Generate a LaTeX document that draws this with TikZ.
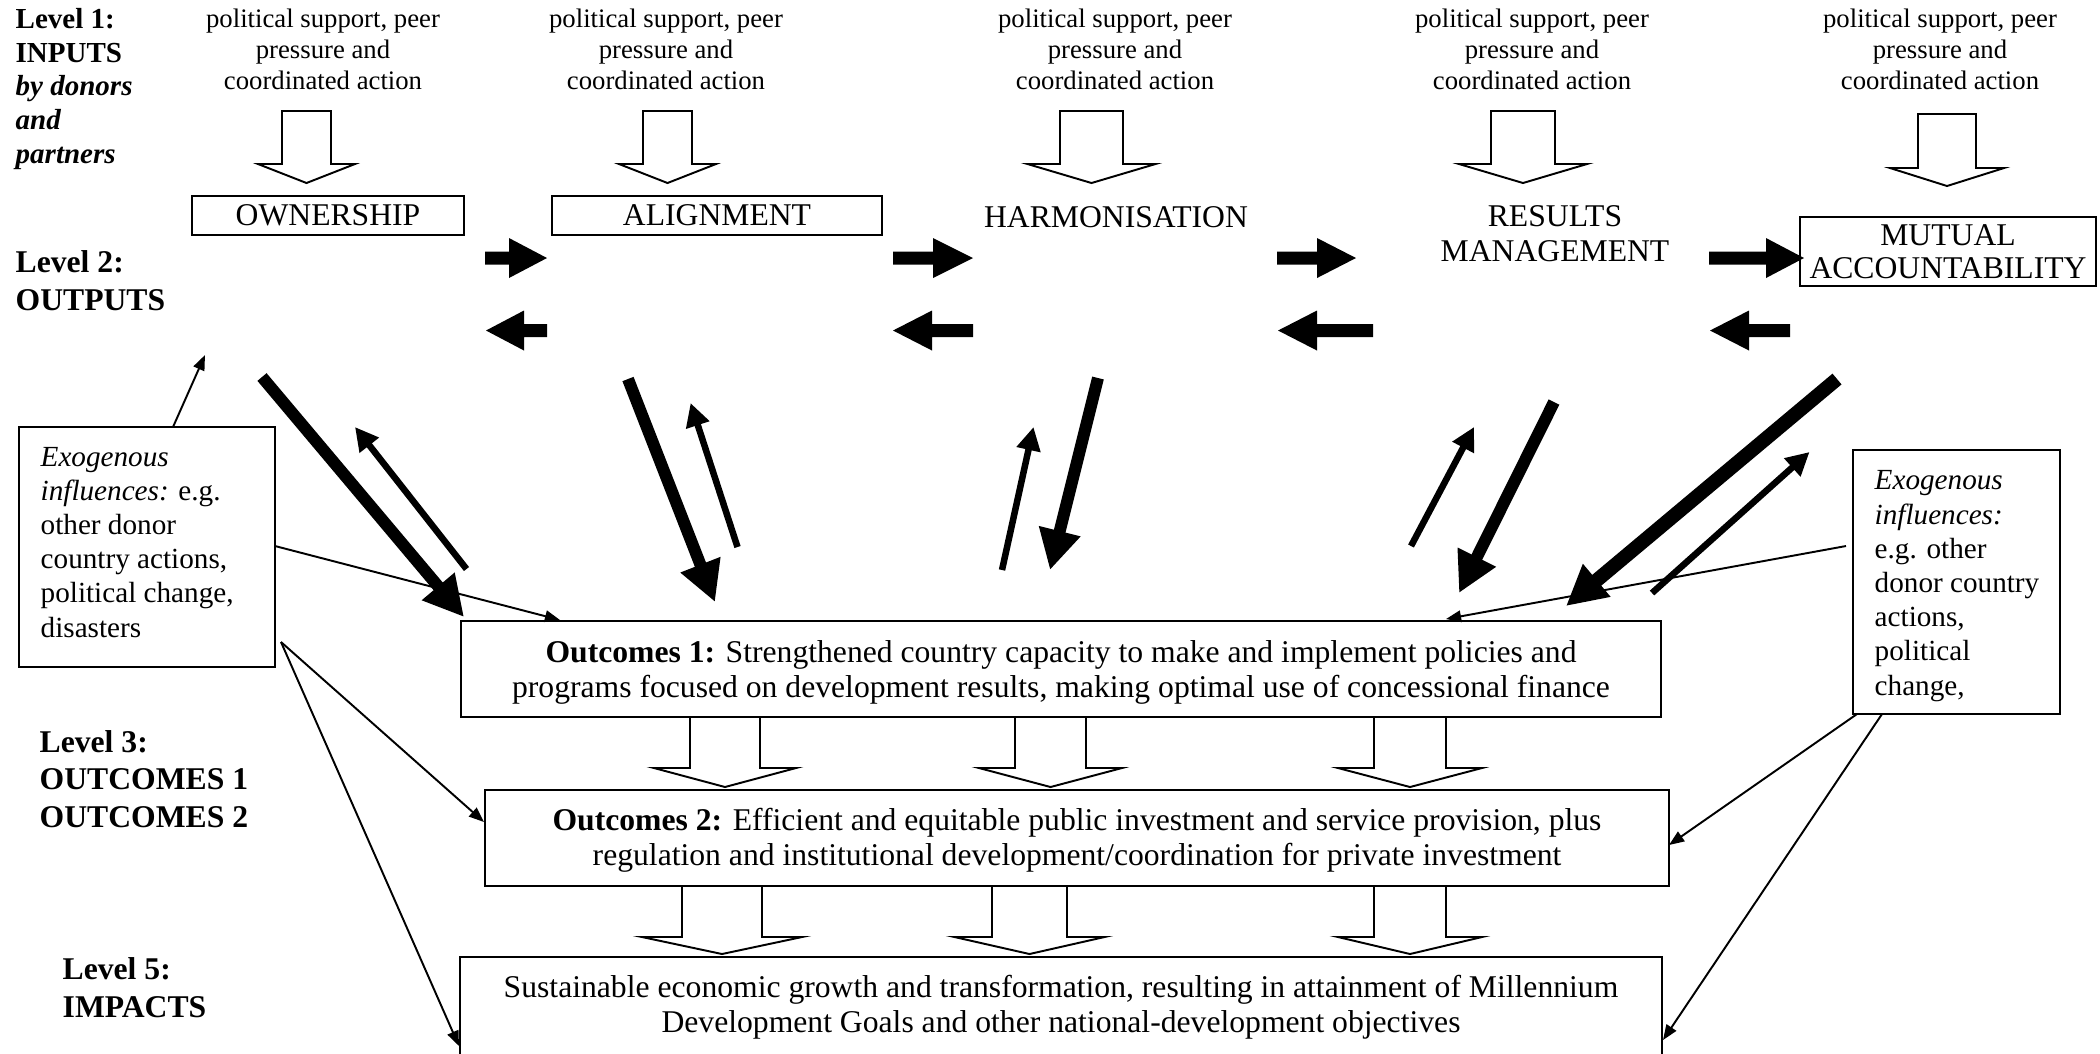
\documentclass[tikz,border=0pt]{standalone}
\usepackage{fontspec}
\setmainfont{Liberation Serif}
\usetikzlibrary{arrows.meta}
\newcommand\hollowArr[6]{% centre x, shaft half, head half, top y, head base y, tip y
  \draw[hollow] (#1-#2,#4) -- (#1+#2,#4) -- (#1+#2,#5) -- (#1+#3,#5) -- (#1,#6)
    -- (#1-#3,#5) -- (#1-#2,#5) -- cycle;}
\newcommand\blkArr[4]{% tail x, head base x, tip x, centre y
  \fill[black] (#1,#4-6.5) -- (#2,#4-6.5) -- (#2,#4-20) -- (#3,#4) -- (#2,#4+20)
    -- (#2,#4+6.5) -- (#1,#4+6.5) -- cycle;}
\begin{document}
\begin{tikzpicture}[x=0.01cm,y=-0.01cm,
  hollow/.style={draw=black, fill=white, line width=0.55pt, line join=miter},
  toptxt/.style={font=\fontsize{7.6}{8.68}\selectfont, align=center, anchor=base, inner sep=0},
  lvlA/.style={font=\fontsize{8.25}{9.53}\selectfont\bfseries, align=left, anchor=base west, inner sep=0},
  lvlB/.style={font=\fontsize{9}{10.53}\selectfont\bfseries, align=left, anchor=base west, inner sep=0},
  boxlbl/.style={draw=black, line width=0.6pt, inner sep=0, font=\fontsize{9}{9.4}\selectfont, align=center},
  plainlbl/.style={inner sep=0, font=\fontsize{9}{9.96}\selectfont, align=center},
  outbox/.style={draw=black, line width=0.6pt, inner sep=0},
  outtxt/.style={font=\fontsize{9}{9.96}\selectfont, align=center, anchor=base, inner sep=0},
  exotxt/.style={font=\fontsize{8.3}{9.72}\selectfont, align=left, anchor=base west, inner sep=0},
  thickarr/.style={line width=3.4pt, -{Triangle[length=11.4pt,width=11.4pt]}},
  thickerarr/.style={line width=4pt, -{Triangle[length=11.4pt,width=11.4pt]}},
  uparr/.style={line width=1.85pt, -{Triangle[length=6.6pt,width=6.6pt]}},
  thinarr/.style={line width=0.55pt, -{Triangle[length=4.3pt,width=3.3pt]}}
]
\useasboundingbox (0,0) rectangle (2100,1053);

% ---------- level labels (positions = baseline of last line) ----------
\node[lvlA] (lv1) at (15,163) {Level 1:\\INPUTS\\\textit{by donors}\\\textit{and}\\\textit{partners}};
\node[lvlB] (lv2) at (15,310) {Level 2:\\OUTPUTS};
\node[lvlB] (lv3) at (39,827) {Level 3:\\OUTCOMES 1\\OUTCOMES 2};
\node[lvlB] (lv5) at (62,1017) {Level 5:\\IMPACTS};

% ---------- inputs ----------
\node[toptxt] (in1) at (323,89) {political support, peer\\pressure and\\coordinated action};
\node[toptxt] (in2) at (666,89) {political support, peer\\pressure and\\coordinated action};
\node[toptxt] (in3) at (1115,89) {political support, peer\\pressure and\\coordinated action};
\node[toptxt] (in4) at (1532,89) {political support, peer\\pressure and\\coordinated action};
\node[toptxt] (in5) at (1940,89) {political support, peer\\pressure and\\coordinated action};

\hollowArr{306.5}{24.5}{48.5}{111}{164}{183}
\hollowArr{667.5}{24.5}{48.5}{111}{164}{183}
\hollowArr{1091.5}{31.5}{64}{111}{164}{183}
\hollowArr{1523}{32}{64}{111}{164}{183}
\hollowArr{1947}{29}{57}{114}{168}{186}

% ---------- outputs ----------
\node[boxlbl, minimum width=2.72cm, minimum height=0.39cm] (own) at (328,215.5) {OWNERSHIP};
\node[boxlbl, minimum width=3.30cm, minimum height=0.39cm] (ali) at (717,215.5) {ALIGNMENT};
\node[plainlbl, anchor=base] (har) at (1116,227) {HARMONISATION};
\node[plainlbl] (res) at (1555,234) {RESULTS\\MANAGEMENT};
\node[boxlbl, minimum width=2.96cm, minimum height=0.69cm] (mut) at (1948,251.5) {MUTUAL\\ACCOUNTABILITY};

\blkArr{485}{509}{547}{258}
\blkArr{893}{933}{973}{258}
\blkArr{1277}{1317}{1356}{258}
\blkArr{1709}{1766}{1804}{258}
\blkArr{547}{524}{486}{330.5}
\blkArr{973}{932}{893}{330.5}
\blkArr{1373}{1317}{1278}{330.5}
\blkArr{1790}{1749}{1710}{330.5}

% ---------- outcome boxes ----------
\node[outbox, minimum width=11.995cm, minimum height=0.96cm] (o1) at (1061.25,669) {};
\node[outtxt] (o1t) at (1061,697) {\textbf{Outcomes 1:} Strengthened country capacity to make and implement policies and\\programs focused on development results, making optimal use of concessional finance};
\node[outbox, minimum width=11.84cm, minimum height=0.96cm] (o2) at (1077,838) {};
\node[outtxt] (o2t) at (1077,865) {\textbf{Outcomes 2:} Efficient and equitable public investment and service provision, plus\\regulation and institutional development/coordination for private investment};
\node[inner sep=0, minimum width=12cm, minimum height=0.95cm] (imp) at (1061,1005.5) {};
\draw[line width=0.6pt] (imp.south west) -- (imp.north west) -- (imp.north east) -- (imp.south east);
\node[outtxt] (impt) at (1061,1032) {Sustainable economic growth and transformation, resulting in attainment of Millennium\\Development Goals and other national-development objectives};

\hollowArr{725}{35}{71}{717}{768}{787}
\hollowArr{1050.5}{35.5}{71.5}{717}{768}{787}
\hollowArr{1410}{36}{72}{717}{768}{787}
\hollowArr{722}{40}{80}{886}{937}{954}
\hollowArr{1029.5}{37.5}{75}{886}{937}{954}
\hollowArr{1410}{36}{72}{886}{937}{954}

% ---------- exogenous boxes ----------
\node[outbox, minimum width=2.56cm, minimum height=2.40cm] (exl) at (147,547) {};
\node[exotxt] (exlt) at (40,637) {\textit{Exogenous}\\\textit{influences:} e.g.\\other donor\\country actions,\\political change,\\disasters};
\node[outbox, minimum width=2.07cm, minimum height=2.64cm] (exr) at (1956.5,582) {};
\node[exotxt] (exrt) at (1874,695) {\textit{Exogenous}\\\textit{influences:}\\e.g. other\\donor country\\actions,\\political\\change,};

% ---------- diagonal arrows ----------
\coordinate (a1s) at (262,377);   \coordinate (a1e) at (464,617);
\coordinate (b1s) at (466.5,569); \coordinate (b1e) at (355,427);
\coordinate (a2s) at (628,379);   \coordinate (a2e) at (715,602);
\coordinate (b2s) at (737.5,547); \coordinate (b2e) at (690.6,403);
\coordinate (a3s) at (1098,378);  \coordinate (a3e) at (1050,570);
\coordinate (b3s) at (1002,570);  \coordinate (b3e) at (1033.5,427);
\coordinate (a4s) at (1554,402);  \coordinate (a4e) at (1459,593);
\coordinate (b4s) at (1411,546);  \coordinate (b4e) at (1474,427);
\coordinate (a5s) at (1837,379);  \coordinate (a5e) at (1566,606);
\coordinate (b5s) at (1652,593);  \coordinate (b5e) at (1809.5,452);
\draw[thickarr] (a1s) -- (a1e);
\draw[uparr] (b1s) -- (b1e);
\draw[thickarr] (a2s) -- (a2e);
\draw[uparr] (b2s) -- (b2e);
\draw[thickarr] (a3s) -- (a3e);
\draw[uparr] (b3s) -- (b3e);
\draw[thickarr] (a4s) -- (a4e);
\draw[uparr] (b4s) -- (b4e);
\draw[thickerarr] (a5s) -- (a5e);
\draw[uparr] (b5s) -- (b5e);

% ---------- exogenous influence lines ----------
\coordinate (t1s) at (173,427);  \coordinate (t1e) at (205,355);
\coordinate (t2s) at (275,546);  \coordinate (t2e) at (560,620);
\coordinate (t3s) at (281,642);  \coordinate (t3e) at (484,822);
\coordinate (t4e) at (459,1046);
\coordinate (t5s) at (1846,546); \coordinate (t5e) at (1446,619);
\coordinate (t6s) at (1857,714); \coordinate (t6e) at (1669,845);
\coordinate (t7s) at (1882,714); \coordinate (t7e) at (1663,1040);
\draw[thinarr] (t1s) -- (t1e);
\draw[thinarr] (t2s) -- (t2e);
\draw[thinarr] (t3s) -- (t3e);
\draw[thinarr] (t3s) -- (t4e);
\draw[thinarr] (t5s) -- (t5e);
\draw[thinarr] (t6s) -- (t6e);
\draw[thinarr] (t7s) -- (t7e);
\end{tikzpicture}
\end{document}
